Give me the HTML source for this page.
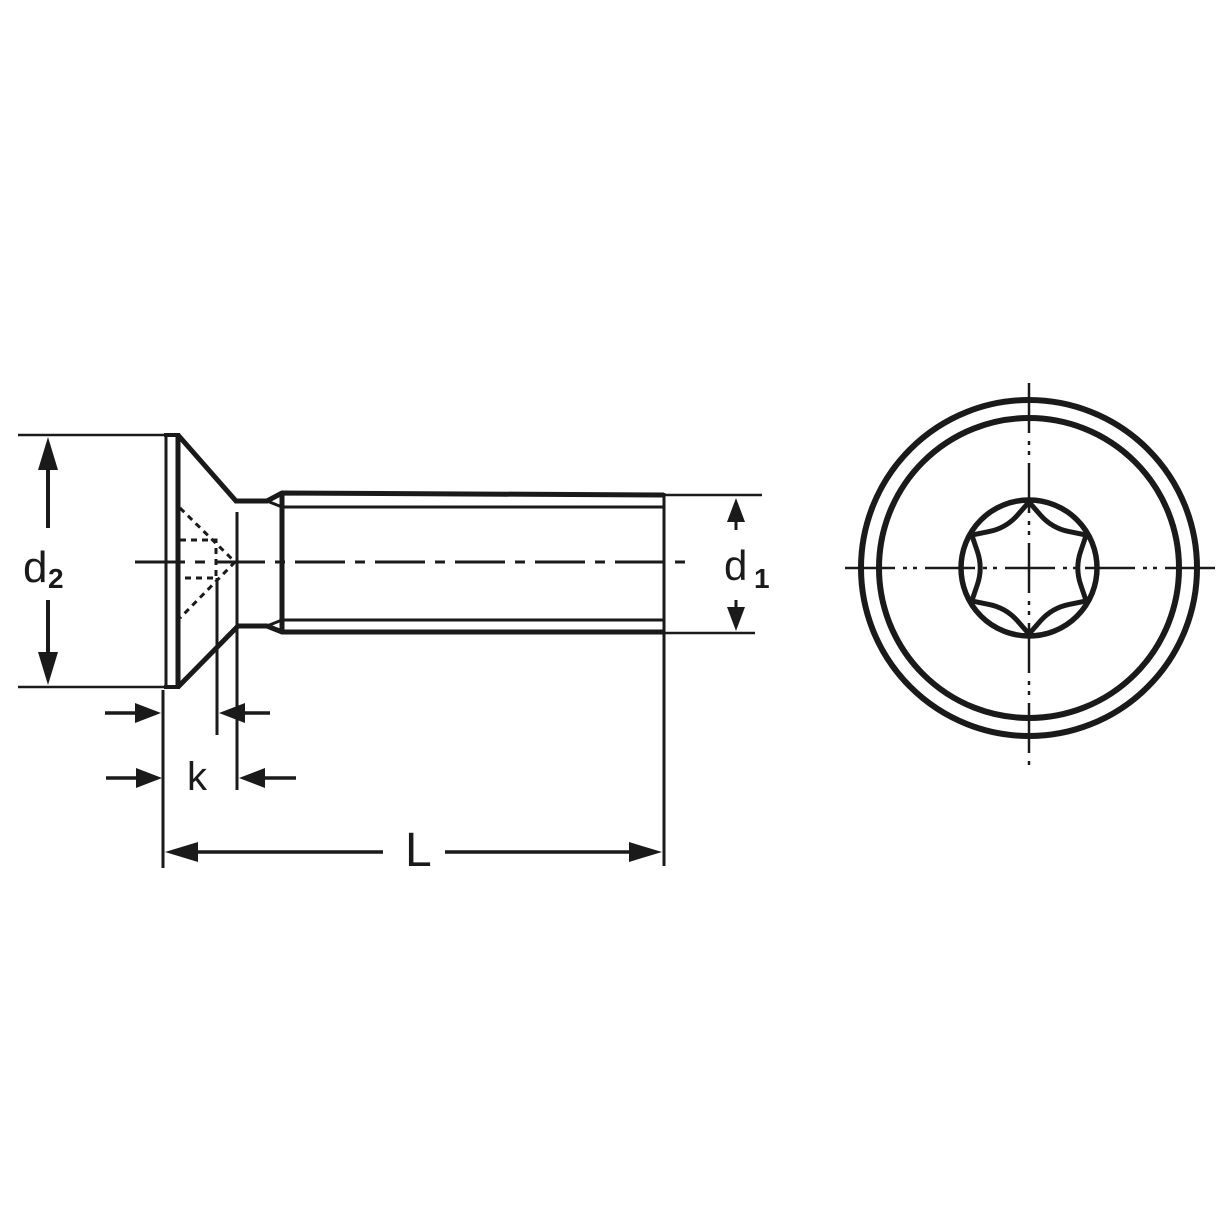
<!DOCTYPE html>
<html><head><meta charset="utf-8"><style>
html,body{margin:0;padding:0;background:#fff}
svg{display:block}
text{font-family:"Liberation Sans","DejaVu Sans",sans-serif;fill:#1a1a1a}
</style></head><body>
<svg width="1228" height="1228" viewBox="0 0 1228 1228" xmlns="http://www.w3.org/2000/svg">
<g stroke="#1a1a1a" fill="none" stroke-linecap="butt">
<line x1="166" y1="435" x2="166" y2="688" stroke-width="3"/>
<line x1="178" y1="435" x2="178" y2="688" stroke-width="5"/>
<line x1="164" y1="435" x2="180" y2="435" stroke-width="4"/>
<line x1="164" y1="687" x2="180" y2="687" stroke-width="4"/>
<polyline points="178,435 236,501 267,501 282,493 664,495" stroke-width="5"/>
<polyline points="178,687 238,626 267,626 282,632 664,632" stroke-width="5"/>
<polyline points="267,501 282,507 664,507" stroke-width="3"/>
<polyline points="267,626 282,620 664,620" stroke-width="3"/>
<line x1="282" y1="492" x2="282" y2="633" stroke-width="5"/>
<line x1="664" y1="493" x2="664" y2="866" stroke-width="3"/>
<g stroke-width="3" stroke-dasharray="6,5">
<polyline points="180,508 235,562 180,618"/>
<polyline points="180,540 216,540 216,578 180,578"/>
</g>
<line x1="217" y1="578" x2="217" y2="735" stroke-width="3"/>
<line x1="237" y1="512" x2="237" y2="790" stroke-width="3"/>
<line x1="163" y1="690" x2="163" y2="868" stroke-width="3"/>
<line x1="135" y1="562" x2="690" y2="562" stroke-width="3" stroke-dasharray="50,10,10,10"/>
<line x1="18" y1="435" x2="166" y2="435" stroke-width="2.5"/>
<line x1="18" y1="687" x2="166" y2="687" stroke-width="2.5"/>
<line x1="48" y1="455" x2="48" y2="528" stroke-width="4"/>
<line x1="48" y1="600" x2="48" y2="668" stroke-width="4"/>
<line x1="664" y1="495" x2="762" y2="495" stroke-width="2.5"/>
<line x1="664" y1="633" x2="755" y2="633" stroke-width="2.5"/>
<line x1="736" y1="520" x2="736" y2="530" stroke-width="3"/>
<line x1="736" y1="600" x2="736" y2="610" stroke-width="3"/>
<line x1="105" y1="713" x2="150" y2="713" stroke-width="3.5"/>
<line x1="230" y1="713" x2="270" y2="713" stroke-width="3.5"/>
<line x1="106" y1="778" x2="150" y2="778" stroke-width="3.5"/>
<line x1="250" y1="778" x2="296" y2="778" stroke-width="3.5"/>
<line x1="178" y1="852" x2="383" y2="852" stroke-width="3.5"/>
<line x1="445" y1="852" x2="650" y2="852" stroke-width="3.5"/>
<circle cx="1029" cy="568" r="168" stroke-width="6"/>
<circle cx="1029" cy="568" r="150" stroke-width="6"/>
<circle cx="1029" cy="568" r="68" stroke-width="5.5"/>
<path d="M1029,502 L1017.5,515.1 Q1006,528.2 988.9,531.6 L971.8,535 L977.4,551.5 Q983,568 977.4,584.5 L971.8,601 L988.9,604.4 Q1006,607.8 1017.5,620.9 L1029,634 L1040.5,620.9 Q1052,607.8 1069.1,604.4 L1086.2,601 L1080.6,584.5 Q1075,568 1080.6,551.5 L1086.2,535 L1069.1,531.6 Q1052,528.2 1040.5,515.1 Z" stroke-width="5"/>
<line x1="845" y1="568" x2="1222" y2="568" stroke-width="2.5" stroke-dasharray="50,8,4,6,4,8"/>
<line x1="1029" y1="383" x2="1029" y2="768" stroke-width="2.5" stroke-dasharray="50,8,4,6,4,8"/>
</g>
<g fill="#1a1a1a">
<polygon points="48,437 38,470 58,470"/>
<polygon points="48,685 38,652 58,652"/>
<polygon points="736,498 727,522 745,522"/>
<polygon points="736,631 727,607 745,607"/>
<polygon points="161,713 135,703 135,723"/>
<polygon points="219,713 245,703 245,723"/>
<polygon points="162,778 136,768 136,788"/>
<polygon points="239,778 265,768 265,788"/>
<polygon points="165,852 198,842 198,862"/>
<polygon points="662,852 629,842 629,862"/>
</g>
<text x="23" y="582" font-size="44">d</text>
<text x="48" y="588" font-size="28" font-weight="bold">2</text>
<text x="724" y="580" font-size="42">d</text>
<text x="754" y="588" font-size="28" font-weight="bold">1</text>
<text x="187" y="790" font-size="40">k</text>
<text x="405" y="866" font-size="48">L</text>
</svg>
</body></html>
